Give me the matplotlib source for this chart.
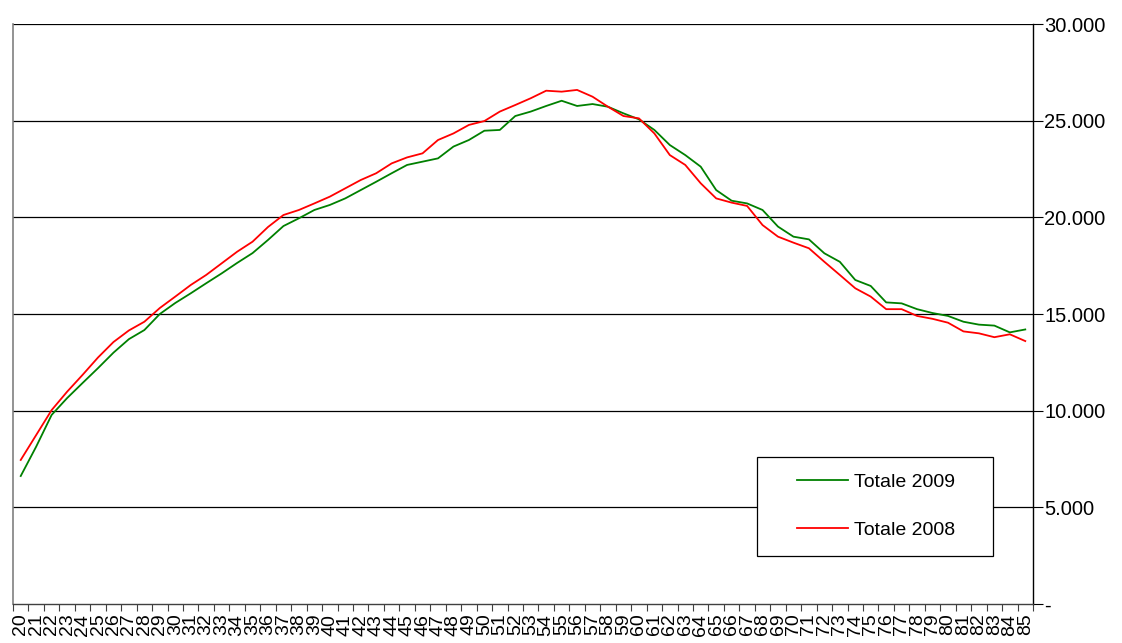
import numpy as np
import matplotlib
matplotlib.use('Agg')
import matplotlib.pyplot as plt
from matplotlib.patches import Rectangle
from matplotlib.ticker import FixedLocator, FuncFormatter

plt.rcParams['font.family'] = ['Liberation Sans', 'DejaVu Sans']

# eta' 20..85
eta = np.arange(20, 86)
tot_2009 = [6620, 8140, 9780, 10650, 11430, 12200, 13000, 13700, 14170, 15000,
            15570, 16070, 16590, 17100, 17640, 18150, 18830, 19550, 19950, 20380,
            20640, 20980, 21410, 21840, 22280, 22710, 22880, 23050, 23660, 24000,
            24480, 24520, 25240, 25470, 25760, 26030, 25760, 25860, 25720, 25380,
            25070, 24520, 23740, 23220, 22620, 21410, 20860, 20720, 20380, 19520,
            19000, 18860, 18140, 17700, 16760, 16450, 15600, 15550, 15250, 15050,
            14900, 14600, 14450, 14400, 14050, 14200]
tot_2008 = [7450, 8740, 10030, 10980, 11850, 12750, 13550, 14150, 14600, 15310,
            15900, 16500, 17020, 17620, 18220, 18740, 19500, 20120, 20380, 20720,
            21070, 21500, 21930, 22280, 22790, 23100, 23310, 24000, 24340, 24780,
            24980, 25470, 25810, 26160, 26550, 26500, 26590, 26240, 25720, 25240,
            25120, 24340, 23220, 22710, 21760, 20980, 20760, 20590, 19600, 19000,
            18690, 18400, 17700, 17020, 16330, 15900, 15250, 15250, 14900, 14750,
            14550, 14100, 14000, 13800, 13950, 13600]
serie = ['Totale 2009', 'Totale 2008']

fig = plt.figure(figsize=(11.22, 6.43), dpi=100)
ax = fig.add_axes([13 / 1122, 1 - 604 / 643, 1020 / 1122, 580 / 643])

ax.plot(eta, tot_2009, color='#008000', lw=1.3, label=serie[0], zorder=3)
ax.plot(eta, tot_2008, color='#ff0000', lw=1.3, label=serie[1], zorder=3)

ax.set_xlim(19.5, 85.5)
ax.set_ylim(0, 30000)

# griglia orizzontale
for v in range(5000, 30001, 5000):
    ax.axhline(v, color='black', lw=0.9, zorder=1)

# asse x: tacche tra le categorie, etichette al centro
ax.xaxis.set_major_locator(FixedLocator(np.arange(19.5, 86, 1)))
ax.xaxis.set_major_formatter(FuncFormatter(lambda v, p: ''))
ax.xaxis.set_minor_locator(FixedLocator(eta))
ax.set_xticklabels([str(e) for e in eta], minor=True)
ax.tick_params(axis='x', which='major', direction='out', length=5, width=0.8,
               color='#404040')
ax.tick_params(axis='x', which='minor', length=0, pad=7, labelsize=14,
               labelrotation=90)

# asse y a destra
ax.yaxis.tick_right()
ax.set_yticks(range(0, 30001, 5000))
ax.yaxis.set_major_formatter(FuncFormatter(
    lambda v, p: '-' if v == 0 else f'{int(v):,}'.replace(',', '.')))
ax.tick_params(axis='y', direction='out', length=7, width=0.8, pad=1,
               labelsize=14.5, color='black')

ax.spines['top'].set_visible(False)
ax.spines['left'].set_color('#808080')
ax.spines['left'].set_linewidth(1.2)
ax.spines['bottom'].set_color('#404040')
ax.spines['bottom'].set_linewidth(1.0)
ax.spines['right'].set_color('black')
ax.spines['right'].set_linewidth(1.0)

# legenda
ax.add_patch(Rectangle((0.729, 0.0828), 0.232, 0.1706, transform=ax.transAxes,
                       fill=True, facecolor='white', edgecolor='black', lw=0.9,
                       zorder=4))
leg = ax.legend(loc='upper left', bbox_to_anchor=(0.7686, 0.2260),
                frameon=False, fontsize=14, borderpad=0, borderaxespad=0,
                handlelength=2.6, handletextpad=0.35, labelspacing=1.6)
leg.set_zorder(5)

fig.savefig('out.png', dpi=100)
